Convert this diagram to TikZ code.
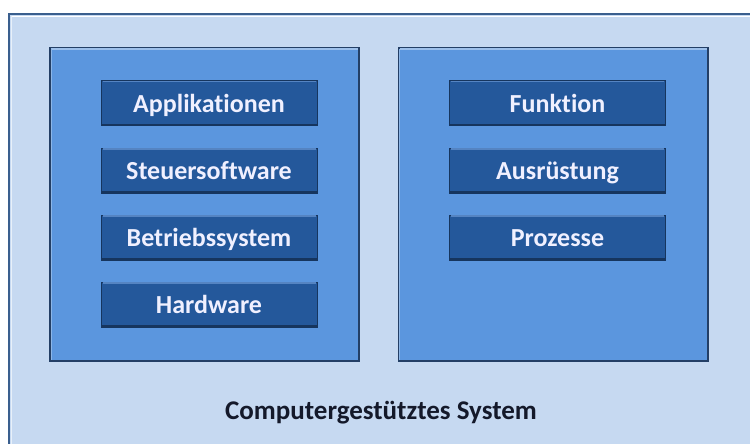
\documentclass[tikz,border=0pt]{standalone}
\usepackage{fontspec}
\setmainfont[Ligatures=NoCommon]{Carlito}
\definecolor{outerfill}{HTML}{C6D9F1}
\definecolor{outerdraw}{HTML}{3A5F8E}
\definecolor{panelfill}{HTML}{5B96DE}
\definecolor{paneldraw}{HTML}{233F66}
\definecolor{boxfill}{HTML}{24589B}
\definecolor{boxdraw}{HTML}{16355E}
\definecolor{boxhi}{HTML}{5584C2}
\definecolor{captext}{HTML}{14192A}
\tikzset{
  outerbox/.style={draw=outerdraw, line width=2pt, fill=outerfill},
  panelbox/.style={draw=paneldraw, line width=2pt, fill=panelfill, minimum width=309pt, minimum height=313pt, inner sep=0pt},
  itembox/.style={draw=boxdraw, line width=1pt, fill=boxfill, minimum width=216pt, minimum height=45pt, inner sep=0pt,
    text=white!94!blue, text height=21pt, text depth=3pt, font=\fontsize{26}{30}\selectfont\bfseries},
  caption/.style={text=captext, font=\fontsize{27}{31}\selectfont\bfseries}
}
\begin{document}
\begin{tikzpicture}[x=1pt,y=-1pt]
\useasboundingbox (0,0) rectangle (750,444);
\fill[white] (0,0) rectangle (750,444);
% outer frame
\draw[outerbox] (9,14) rectangle (770,470);
\draw[white, line width=1pt] (11.5,16.5) -- (760,16.5);
\draw[white!60!outerfill, line width=1pt] (11.5,16.5) -- (11.5,460);
% panels
\node[panelbox] (lp) at (204.5,204.5) {};
\node[panelbox] (rp) at (553,204.5) {};
\foreach \p in {lp,rp}{
  \draw[panelfill!60!white, line width=1.2pt] ([xshift=2pt,yshift=-2pt]\p.north west) -- ([xshift=-2pt,yshift=-2pt]\p.north east);
  \draw[panelfill!70!white, line width=1pt] ([xshift=2pt,yshift=-2pt]\p.north west) -- ([xshift=2pt,yshift=2pt]\p.south west);
}
% left items
\node[itembox] (a1) at (209,103) {Applikationen};
\node[itembox] (a2) at (209,170.5) {Steuersoftware};
\node[itembox] (a3) at (209,237.5) {Betriebssystem};
\node[itembox] (a4) at (209,304.5) {Hardware};
% right items
\node[itembox] (b1) at (557.5,103) {Funktion};
\node[itembox] (b2) at (557.5,170.5) {Ausrüstung};
\node[itembox] (b3) at (557.5,237.5) {Prozesse};
\foreach \n in {a1,a2,a3,a4,b1,b2,b3}{
  \draw[boxhi, line width=1.5pt] ([xshift=2pt,yshift=-1.5pt]\n.north west) -- ([xshift=-2pt,yshift=-1.5pt]\n.north east);
  \draw[boxdraw, line width=1.5pt] ([xshift=1pt,yshift=1.5pt]\n.south west) -- ([xshift=-1pt,yshift=1.5pt]\n.south east);
}
\node[caption] (cap) at (381,413) {Computergestütztes System};
\end{tikzpicture}
\end{document}
